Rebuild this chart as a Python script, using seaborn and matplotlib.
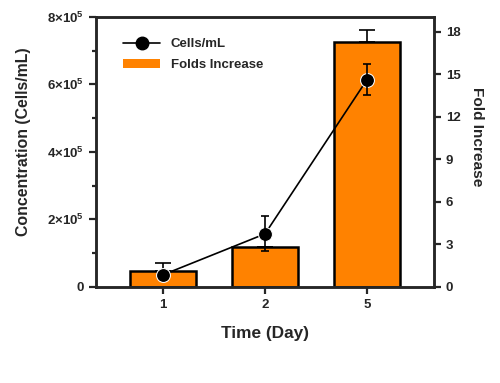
import numpy as np
import pandas as pd
import matplotlib
matplotlib.use('Agg')
import matplotlib.pyplot as plt
import seaborn as sns
from matplotlib.lines import Line2D
from matplotlib.patches import Patch
from matplotlib.ticker import MultipleLocator, FuncFormatter

days = ['1', '2', '5']
fold_increase = [1.15, 2.8, 17.25]
fold_err = [0.52, 0.0, 0.9]
cells_per_ml = [0.36e5, 1.57e5, 6.13e5]
cells_err = [0.08e5, 0.52e5, 0.46e5]

sns.set_style('ticks')
plt.rcParams['font.family'] = ['Liberation Sans', 'DejaVu Sans']
plt.rcParams['font.weight'] = 'bold'
plt.rcParams['axes.labelweight'] = 'bold'
plt.rcParams['mathtext.fontset'] = 'custom'
plt.rcParams['mathtext.rm'] = 'Liberation Sans:bold'
plt.rcParams['mathtext.bf'] = 'Liberation Sans:bold'

orange = '#FF8200'
df = pd.DataFrame({'Day': days, 'Fold': fold_increase})

fig = plt.figure(figsize=(5, 3.83), dpi=100)
ax = fig.add_axes([0.192, 0.251, 0.676, 0.705])

# bars on the right-hand (fold) axis
sns.barplot(data=df, x='Day', y='Fold', order=days, color=orange, width=0.65,
            edgecolor='black', linewidth=1.8, saturation=1, ax=ax, zorder=2)
xpos = np.arange(len(days))
ax.errorbar(xpos, fold_increase, yerr=[np.zeros(len(days)), fold_err], fmt='none',
            ecolor='black', elinewidth=1.2, capsize=6, capthick=1.2, zorder=1)
ax.set_xlim(-0.66, 2.66)
ax.set_ylim(0, 19.05)
ax.yaxis.tick_right()
ax.yaxis.set_label_position('right')
ax.yaxis.set_major_locator(MultipleLocator(3))
ax.set_ylabel('Fold Increase', fontsize=11.1, rotation=270, labelpad=17)
ax.yaxis.label.set_y(0.556)
ax.set_xlabel('Time (Day)', fontsize=12.4, labelpad=11)

# line on the left-hand (concentration) axis
ax2 = ax.twinx()
ax2.yaxis.tick_left()
ax2.yaxis.set_label_position('left')
line_df = pd.DataFrame({'x': xpos, 'cells': cells_per_ml})
sns.lineplot(data=line_df, x='x', y='cells', color='black', marker='o',
             markersize=10, linewidth=1.2, ax=ax2, zorder=3)
ax2.errorbar(xpos, cells_per_ml, yerr=cells_err, fmt='none', ecolor='black',
             elinewidth=1.2, capsize=3, capthick=1.2, zorder=3)
ax2.set_ylim(0, 8e5)
ax2.yaxis.set_major_locator(MultipleLocator(2e5))
ax2.yaxis.set_minor_locator(MultipleLocator(1e5))


def sci(v, pos):
    if v == 0:
        return '0'
    return r'$\mathbf{%d{\times}10^{5}}$' % round(v / 1e5)


ax2.yaxis.set_major_formatter(FuncFormatter(sci))
ax2.set_ylabel('Concentration (Cells/mL)', fontsize=11.4)
ax2.yaxis.set_label_coords(-0.191, 0.539)
ax2.set_xlabel('')

for a in (ax, ax2):
    for s in a.spines.values():
        s.set_linewidth(1.8)
    a.tick_params(axis='both', which='major', width=1.6, length=5, labelsize=9.5)
    a.tick_params(axis='y', which='minor', width=1.6, length=3)
ax.tick_params(axis='y', left=False, right=True, labelleft=False, labelright=True)
ax2.tick_params(axis='y', which='both', left=True, right=False, labelleft=True, labelright=False)

handles = [Line2D([0], [0], color='black', marker='o', markersize=9, linewidth=1.2),
           Patch(facecolor=orange, edgecolor='none')]
leg = ax2.legend(handles, ['Cells/mL', 'Folds Increase'], loc='upper left',
                 frameon=False, prop={'weight': 'bold', 'size': 9.5},
                 bbox_to_anchor=(0.045, 0.965), handlelength=2.8,
                 labelspacing=0.65)

fig.savefig('out.png', dpi=100)
